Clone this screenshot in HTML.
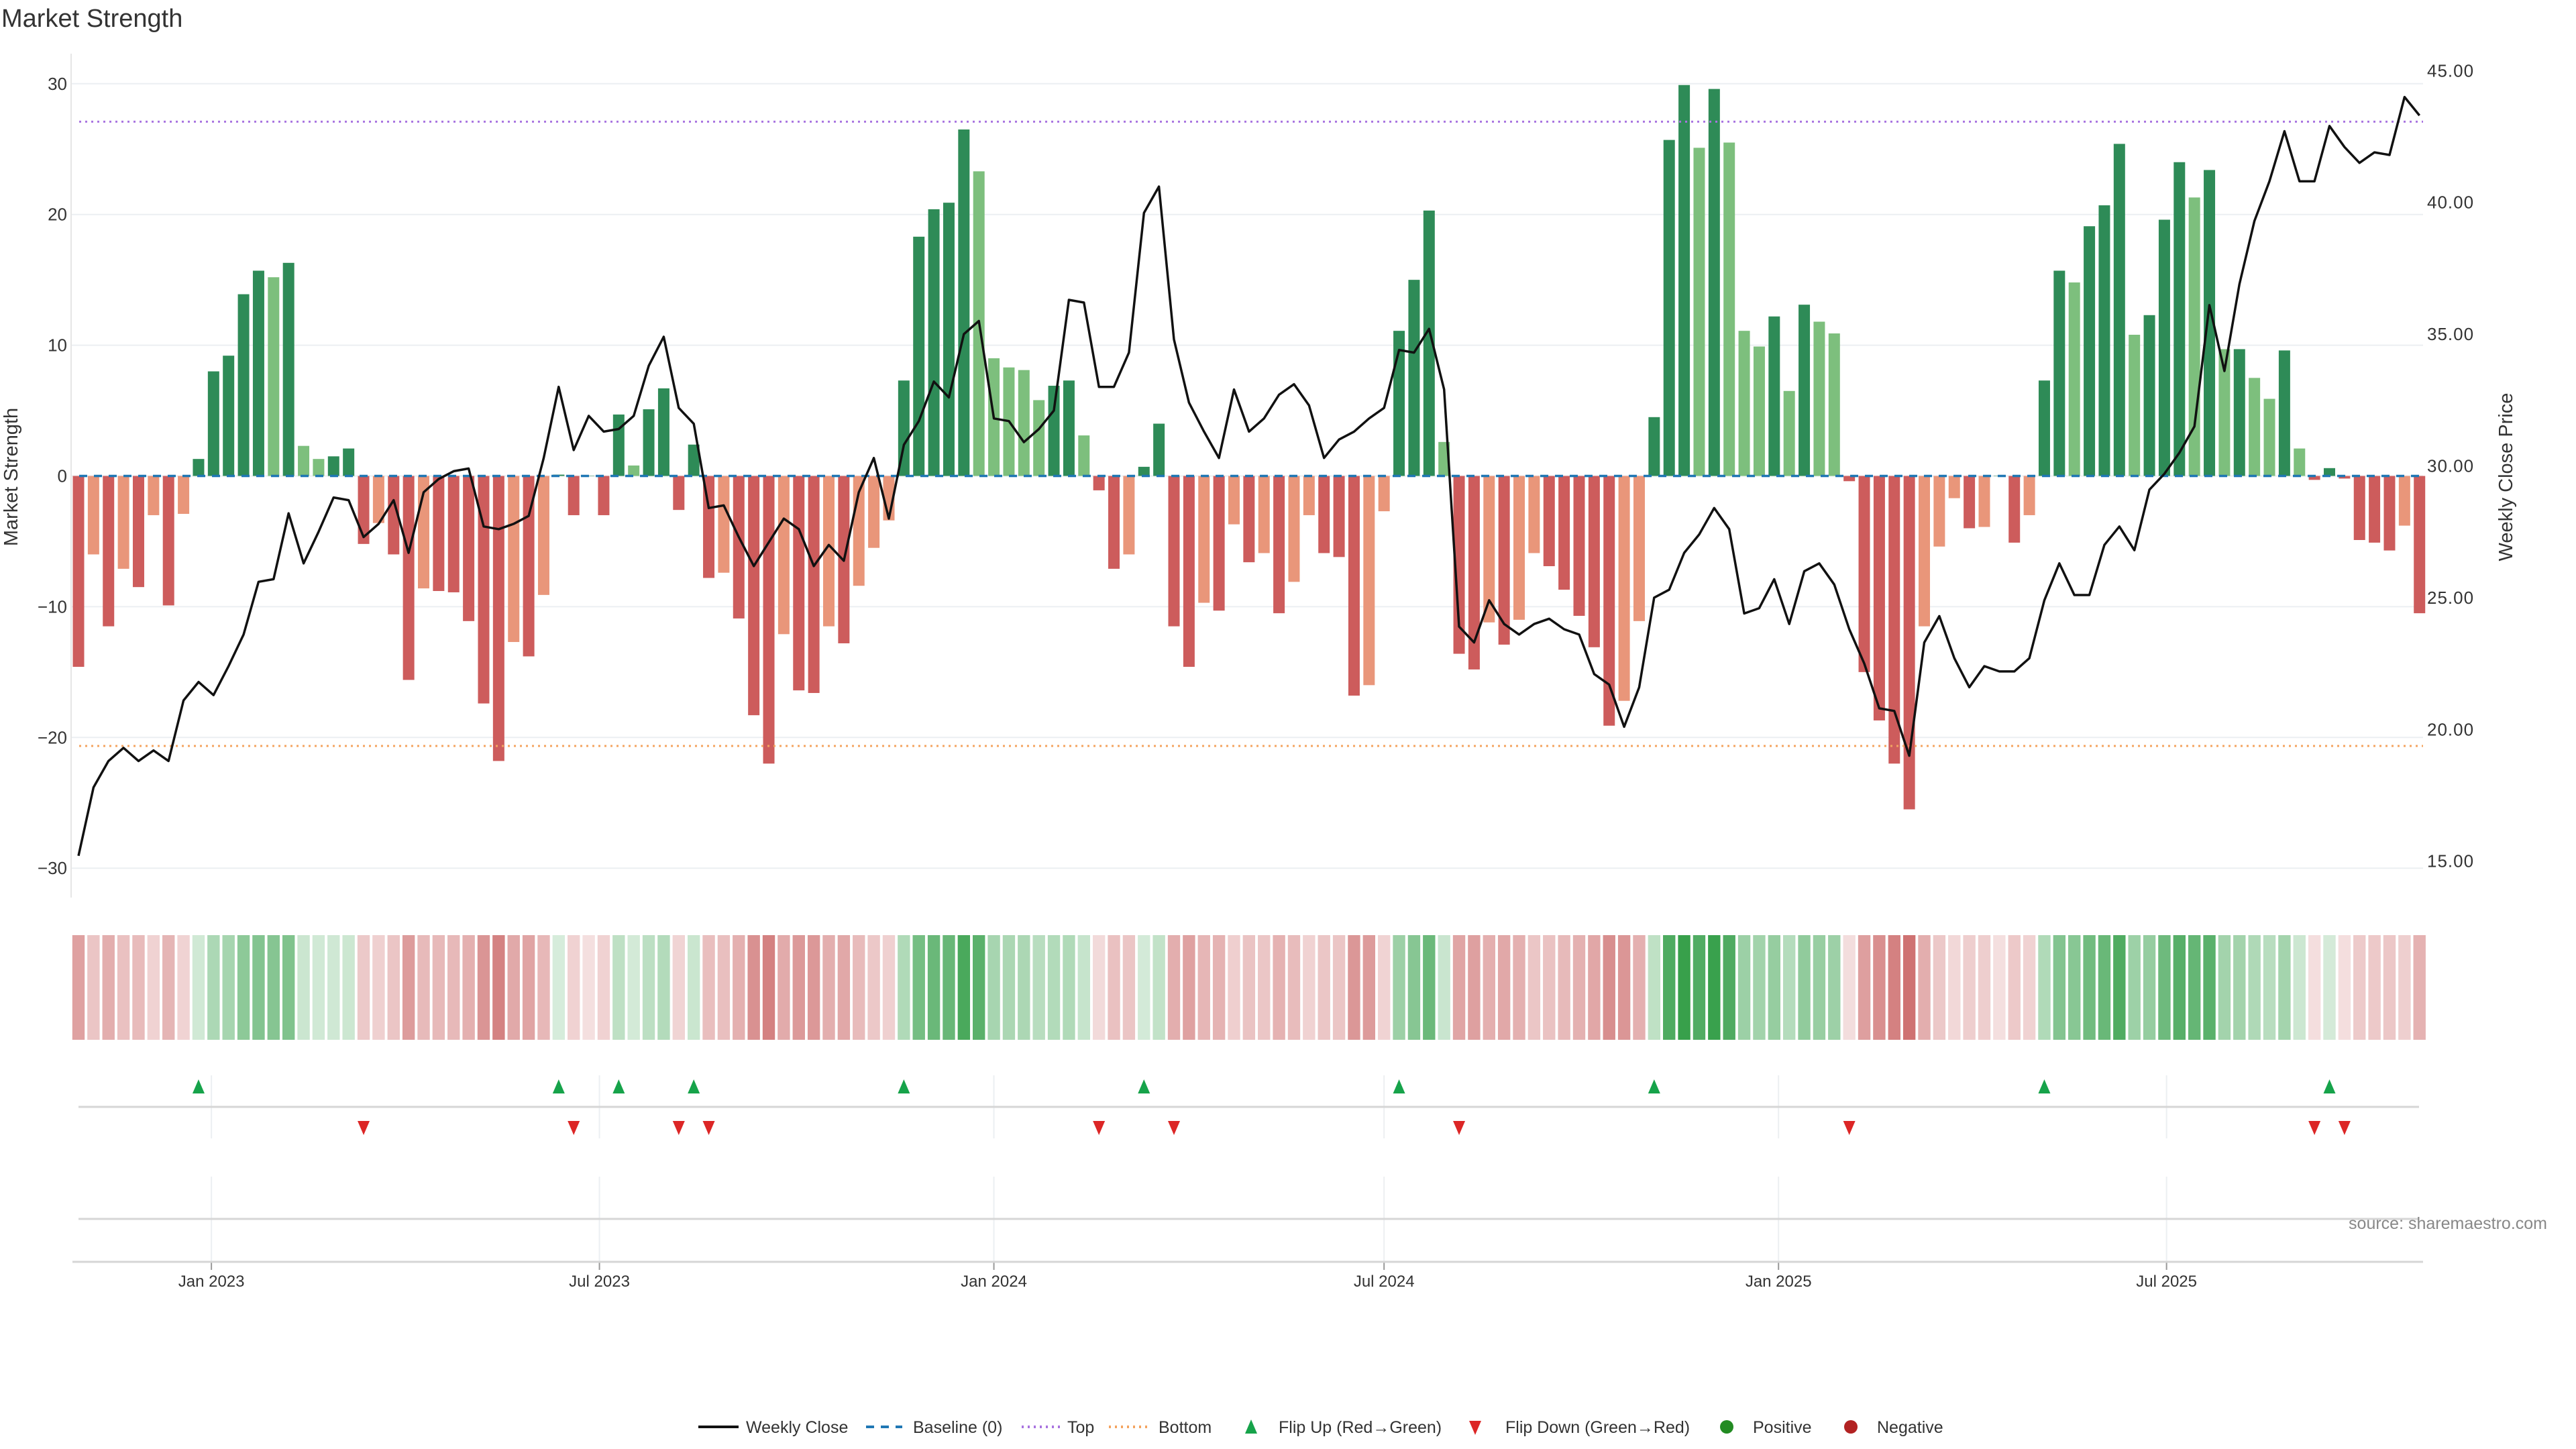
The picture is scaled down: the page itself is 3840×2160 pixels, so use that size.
<!DOCTYPE html>
<html><head><meta charset="utf-8"><title>Market Strength</title>
<style>
html,body{margin:0;padding:0;background:#fff;}
svg{display:block;font-family:"Liberation Sans",sans-serif;}
</style></head>
<body>
<svg id="chart" width="3840" height="2160" viewBox="0 0 3840 2160" xmlns="http://www.w3.org/2000/svg">
<rect x="0" y="0" width="3840" height="2160" fill="#fff"/>
<text x="2" y="40" font-size="38" fill="#333">Market Strength</text>
<g id="grid"></g><g id="heat"></g><g id="flips"></g><g id="bars"></g><g id="lines"></g><g id="axes"></g><g id="legend"></g>
<text transform="translate(26,711) rotate(-90)" text-anchor="middle" font-size="29" fill="#333">Market Strength</text>
<text transform="translate(3745,711) rotate(-90)" text-anchor="middle" font-size="29" fill="#333">Weekly Close Price</text>
<text x="3797" y="1832" text-anchor="end" font-size="25" fill="#888">source: sharemaestro.com</text>
</svg>
<script>
const strength = [-14.6,-6.0,-11.5,-7.1,-8.5,-3.0,-9.9,-2.9,1.3,8.0,9.2,13.9,15.7,15.2,16.3,2.3,1.3,1.5,2.1,-5.2,-3.6,-6.0,-15.6,-8.6,-8.8,-8.9,-11.1,-17.4,-21.8,-12.7,-13.8,-9.1,0.1,-3.0,0,-3.0,4.7,0.8,5.1,6.7,
-2.6,2.4,-7.8,-7.4,-10.9,-18.3,-22.0,-12.1,-16.4,-16.6,-11.5,-12.8,-8.4,-5.5,-3.4,7.3,18.3,20.4,20.9,26.5,23.3,9.0,8.3,8.1,5.8,6.9,7.3,3.1,-1.1,-7.1,-6.0,0.7,4.0,-11.5,-14.6,-9.7,-10.3,-3.7,-6.6,-5.9,
-10.5,-8.1,-3.0,-5.9,-6.2,-16.8,-16.0,-2.7,11.1,15.0,20.3,2.6,-13.6,-14.8,-11.2,-12.9,-11.0,-5.9,-6.9,-8.7,-10.7,-13.1,-19.1,-17.2,-11.1,4.5,25.7,29.9,25.1,29.6,25.5,11.1,9.9,12.2,6.5,13.1,11.8,10.9,-0.4,-15.0,
-18.7,-22.0,-25.5,-11.5,-5.4,-1.7,-4.0,-3.9,0,-5.1,-3.0,7.3,15.7,14.8,19.1,20.7,25.4,10.8,12.3,19.6,24.0,21.3,23.4,9.7,9.7,7.5,5.9,9.6,2.1,-0.3,0.6,-0.2,-4.9,-5.1,-5.7,-3.8,-10.5];
const closePrice = [15.2,17.8,18.8,19.3,18.8,19.2,18.8,21.1,21.8,21.3,22.4,23.6,25.6,25.7,28.2,26.3,27.5,28.8,28.7,27.3,27.8,28.7,26.7,29.0,29.5,29.8,29.9,27.7,27.6,27.8,28.1,30.3,33.0,30.6,31.9,31.3,31.4,31.9,33.8,34.9,
32.2,31.6,28.4,28.5,27.3,26.2,27.1,28.0,27.6,26.2,27.0,26.4,29.0,30.3,28.0,30.8,31.7,33.2,32.6,35.0,35.5,31.8,31.7,30.9,31.4,32.1,36.3,36.2,33.0,33.0,34.3,39.6,40.6,34.8,32.4,31.3,30.3,32.9,31.3,31.8,
32.7,33.1,32.3,30.3,31.0,31.3,31.8,32.2,34.4,34.3,35.2,32.9,23.9,23.3,24.9,24.0,23.6,24.0,24.2,23.8,23.6,22.1,21.7,20.1,21.6,25.0,25.3,26.7,27.4,28.4,27.6,24.4,24.6,25.7,24.0,26.0,26.3,25.5,23.8,22.5,
20.8,20.7,19.0,23.3,24.3,22.7,21.6,22.4,22.2,22.2,22.7,24.9,26.3,25.1,25.1,27.0,27.7,26.8,29.1,29.7,30.5,31.5,36.1,33.6,36.9,39.3,40.8,42.7,40.8,40.8,42.9,42.1,41.5,41.9,41.8,44.0,43.3];
const startDate = "2022-10-31";
const thresholds = [27.1, -20.65];
const yTicks = [-30,-20,-10,0,10,20,30];
const y2Ticks = [15,20,25,30,35,40,45];
const xTickLabels = ["Jan 2023","Jul 2023","Jan 2024","Jul 2024","Jan 2025","Jul 2025"];
const xTickDates = ["2023-01-01","2023-07-01","2024-01-01","2024-07-01","2025-01-01","2025-07-01"];

const NS="http://www.w3.org/2000/svg";
function mk(tag, attrs, parent){const e=document.createElementNS(NS,tag);for(const k in attrs)e.setAttribute(k,attrs[k]);if(parent)parent.appendChild(e);return e;}
const DAY=86400000, t0=Date.parse(startDate);
const X0=117, STEP=22.37;
function xOfIndex(i){return X0+i*STEP;}
function xOfDate(d){return X0+(Date.parse(d)-t0)/DAY/7*STEP;}
function yS(v){return 709.5-v*19.49;}
function yP(p){return 105.3+(45-p)*39.28;}
const PL=106, PR=3612;
const gridG=document.getElementById('grid'), barsG=document.getElementById('bars'), linesG=document.getElementById('lines'), axesG=document.getElementById('axes'), heatG=document.getElementById('heat'), flipsG=document.getElementById('flips'), legendG=document.getElementById('legend');

yTicks.forEach(v=>{
  const g=mk('line',{x1:PL,x2:PR,y1:yS(v),y2:yS(v),stroke:'#eceff2','stroke-width':2},gridG);
  
  
  const t=mk('text',{x:100,y:yS(v)+9,'text-anchor':'end','font-size':26,fill:'#333'},axesG);
  t.textContent=(v<0?'\u2212'+Math.abs(v):v);
  
  
});
y2Ticks.forEach(p=>{
  const t=mk('text',{x:3618,y:yP(p)+9,'font-size':26,fill:'#333','letter-spacing':'1'},axesG);
  t.textContent=p.toFixed(2);
  
  
});
const la=mk('line',{x1:PL,x2:PL,y1:80,y2:1338,stroke:'#e6e6e6','stroke-width':2},axesG);



xTickDates.forEach((d,i)=>{
  const x=xOfDate(d);
  const g1=mk('line',{x1:x,x2:x,y1:1603,y2:1697,stroke:'#eceff2','stroke-width':2},gridG);
  
  
  const g2=mk('line',{x1:x,x2:x,y1:1754,y2:1881,stroke:'#eceff2','stroke-width':2},gridG);
  
  
  const tk=mk('line',{x1:x,x2:x,y1:1881,y2:1893,stroke:'#999','stroke-width':2},axesG);
  
  
  const t=mk('text',{x:x,y:1918,'text-anchor':'middle','font-size':24,fill:'#333'},axesG);
  t.textContent=xTickLabels[i];
  
  
});
const hl1=mk('line',{x1:117,x2:3606,y1:1650,y2:1650,stroke:'#d6d6d6','stroke-width':3},gridG);


const hl2=mk('line',{x1:117,x2:3606,y1:1817,y2:1817,stroke:'#d6d6d6','stroke-width':3},gridG);


const xa=mk('line',{x1:108,x2:3612,y1:1881,y2:1881,stroke:'#d6d6d6','stroke-width':3},axesG);



const BW=17;
strength.forEach((v,i)=>{
  const prev=i>0?strength[i-1]:0;
  let col;
  if(v>=0) col=(v>=prev)?'#2e8b57':'#7dbf7d';
  else col=(v<prev)?'#cd5c5c':'#e9967a';
  const y0=yS(0), y1=yS(v);
  const r=mk('rect',{x:xOfIndex(i)-BW/2,y:Math.min(y0,y1),width:BW,height:Math.max(0.5,Math.abs(y1-y0)),fill:col},barsG);
  
  
  const t=Math.min(1,Math.abs(v)/30), a=0.2+0.8*t;
  const baseCol=v>0?[55,160,75]:[200,95,95];
  const c=baseCol.map(b=>Math.round(255+(b-255)*a));
  const h=mk('rect',{x:xOfIndex(i)-9.2,y:1394,width:18.4,height:156,fill:'rgb('+c[0]+','+c[1]+','+c[2]+')'},heatG);
  
  
  if(i>0){
    const x=xOfIndex(i);
    if(v>0 && prev<=0){
      const f=mk('path',{d:'M'+(x-9)+',1630 L'+(x+9)+',1630 L'+x+',1609 Z',fill:'#16a34a'},flipsG);
      
      
    } else if(v<=0 && prev>0){
      const f=mk('path',{d:'M'+(x-9)+',1671 L'+(x+9)+',1671 L'+x+',1692 Z',fill:'#dc2626'},flipsG);
      
      
    }
  }
});

const topLine=mk('line',{x1:PL+12,x2:PR,y1:yS(thresholds[0]),y2:yS(thresholds[0]),stroke:'#a974e0','stroke-width':3,'stroke-dasharray':'3,6'},linesG);


const botLine=mk('line',{x1:PL+12,x2:PR,y1:yS(thresholds[1]),y2:yS(thresholds[1]),stroke:'#f4a460','stroke-width':3,'stroke-dasharray':'3,6'},linesG);


const baseLine=mk('line',{x1:PL+12,x2:PR,y1:yS(0),y2:yS(0),stroke:'#1f77b4','stroke-width':3.5,'stroke-dasharray':'12,10'},linesG);



const pts=closePrice.map((p,i)=>xOfIndex(i).toFixed(1)+','+yP(p).toFixed(1)).join(' ');
const pl=mk('polyline',{points:pts,fill:'none',stroke:'#111','stroke-width':3.5,'stroke-linejoin':'round'},linesG);



const LY=2127;
function ltext(x,s,name){const t=mk('text',{x:x,y:LY+9,'font-size':25,fill:'#333'},legendG);t.textContent=s;}
let e;
e=mk('line',{x1:1041,x2:1101,y1:LY,y2:LY,stroke:'#111','stroke-width':4},legendG);


ltext(1112,'Weekly Close','legend-weekly-close');
e=mk('line',{x1:1291,x2:1345,y1:LY,y2:LY,stroke:'#1f77b4','stroke-width':4,'stroke-dasharray':'12,10'},legendG);


ltext(1361,'Baseline (0)','legend-baseline');
e=mk('line',{x1:1523,x2:1580,y1:LY,y2:LY,stroke:'#a974e0','stroke-width':4,'stroke-dasharray':'3,6'},legendG);


ltext(1591,'Top','legend-top');
e=mk('line',{x1:1653,x2:1712,y1:LY,y2:LY,stroke:'#f4a460','stroke-width':4,'stroke-dasharray':'3,6'},legendG);


ltext(1727,'Bottom','legend-bottom');
e=mk('path',{d:'M1856,2137 L1874,2137 L1865,2116 Z',fill:'#16a34a'},legendG);


ltext(1906,'Flip Up (Red\u2192Green)','legend-flip-up');
e=mk('path',{d:'M2190,2118 L2208,2118 L2199,2139 Z',fill:'#dc2626'},legendG);


ltext(2244,'Flip Down (Green\u2192Red)','legend-flip-down');
e=mk('circle',{cx:2574,cy:LY,r:10,fill:'#228b22'},legendG);


ltext(2613,'Positive','legend-positive');
e=mk('circle',{cx:2759,cy:LY,r:10,fill:'#b22222'},legendG);


ltext(2798,'Negative','legend-negative');
</script>
</body></html>
